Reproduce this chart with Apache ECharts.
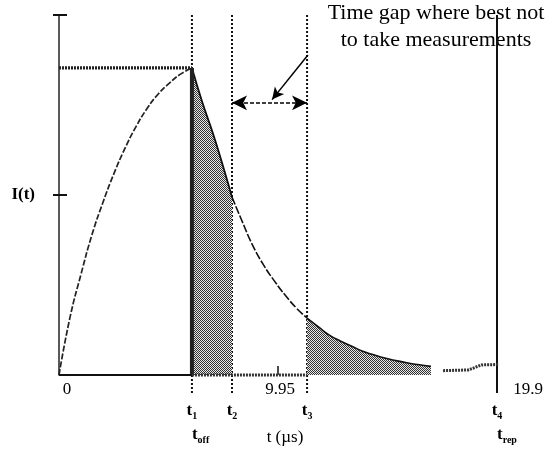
<!DOCTYPE html>
<html><head><meta charset="utf-8">
<script src="https://cdn.jsdelivr.net/npm/echarts@6/dist/echarts.min.js"></script>
<style>html,body{margin:0;padding:0;background:#fff}#c{width:555px;height:451px}</style>
</head><body><div id="c"></div>
<script>
// ---- data ----
const riseT = [0, 0.5, 1.0, 1.5, 2.0, 2.5, 3.0, 3.5, 4.0, 4.5, 5.0, 5.5, 6.04];
const riseI = [0, 0.16, 0.28, 0.39, 0.48, 0.56, 0.63, 0.69, 0.74, 0.78, 0.81, 0.835, 0.853];
const decayT = [6.04, 6.5, 7.0, 7.5, 7.86, 8.3, 8.8, 9.3, 9.8, 10.3, 10.8, 11.27, 11.8, 12.3, 12.8, 13.3, 13.8, 14.3, 14.8, 15.3, 15.8, 16.3, 16.9];
const decayI = [0.853, 0.76, 0.67, 0.57, 0.494, 0.43, 0.36, 0.305, 0.26, 0.22, 0.185, 0.158, 0.133, 0.11, 0.094, 0.08, 0.066, 0.056, 0.047, 0.04, 0.034, 0.029, 0.024];
const plateau = 0.853;
const markTimes = [6.04, 7.86, 11.27, 19.9];      // t1..t4
const markSubs = ['1', '2', '3', '4'];
const subTimes = [6.04, 19.9];
const subNames = ['off', 'rep'];
const xTickValues = [0, 9.95, 19.9];
const xTickLabels = ['0', '9.95', '19.9'];
const yTickValues = [0.5, 1.0];
const tailT = [17.45, 18.6, 19.2, 20.6];
const tailI = [0.012, 0.014, 0.028, 0.03];
const gapArrowI = 0.756;
const pointerFrom = [11.31, 0.889];
const pointerTo = [9.68, 0.765];
const noteText = 'Time gap where best not\nto take measurements';

// ---- helpers ----
const FONT = "'Liberation Serif','Times New Roman',serif";
const zip = (a, b) => a.map((v, i) => [v, b[i]]);
const decay = zip(decayT, decayI);
const t1 = markTimes[0], t2 = markTimes[1], t3 = markTimes[2], t4 = markTimes[3];
const decA = decay.filter(p => p[0] <= t2);
const decB = decay.filter(p => p[0] >= t2 && p[0] <= t3);
const decC = decay.filter(p => p[0] >= t3);

function makePattern() {
  const c = document.createElement('canvas'); c.width = 2; c.height = 2;
  const ctx = c.getContext('2d');
  ctx.fillStyle = '#e8e8e8'; ctx.fillRect(0, 0, 2, 2);
  ctx.fillStyle = '#333';
  ctx.fillRect(0, 0, 1, 1); ctx.fillRect(1, 1, 1, 1);
  return c;
}
const pattern = { image: makePattern(), repeat: 'repeat' };

function seg(data, ls, extra) {
  return Object.assign({
    type: 'line', data: data, showSymbol: false, symbol: 'none', silent: true,
    animation: false, clip: false, lineStyle: ls, z: 3
  }, extra || {});
}
function nearestIdx(arr, v) {
  let b = 0; arr.forEach((a, i) => { if (Math.abs(a - v) < Math.abs(arr[b] - v)) b = i; }); return b;
}

const series = [];
// vertical marker lines
markTimes.forEach((t, i) => {
  series.push(seg([[t, -0.05], [t, 1.0]], {
    color: '#111', width: 2, type: i === 3 ? 'solid' : [2, 2]
  }, { z: 2 }));
});
// rise curve
series.push(seg(zip(riseT, riseI), { color: '#222', width: 1.7, type: [6, 2] }, { smooth: true }));
// plateau
series.push(seg([[0, plateau], [t1, plateau]], { color: '#222', width: 3.2, type: [2, 1] }));
// decay segments
series.push(seg(decA, { color: '#111', width: 1.8 }, { smooth: true, areaStyle: { color: pattern, opacity: 1 } }));
series.push(seg(decB, { color: '#111', width: 1.6, type: [8, 2] }, {
  smooth: true,
  markLine: {
    silent: true, animation: false, symbol: ['arrow', 'arrow'], symbolSize: [11, 15],
    label: { show: false }, lineStyle: { color: '#000', width: 1.5, type: [4, 2] },
    data: [[{ coord: [t2, gapArrowI] }, { coord: [t3, gapArrowI] }]]
  }
}));
series.push(seg(decC, { color: '#111', width: 1.6 }, {
  smooth: true, areaStyle: { color: pattern, opacity: 1 },
  markLine: {
    silent: true, animation: false, symbol: ['none', 'arrow'], symbolSize: [9, 12],
    label: { show: false }, lineStyle: { color: '#000', width: 1.5, type: 'solid' },
    data: [[{ coord: pointerFrom }, { coord: pointerTo }]]
  }
}));
// dark band at t1
series.push(seg([[t1, 0], [t1, plateau]], { color: '#222', width: 4 }));
// baseline pieces
series.push(seg([[0, 0], [t1, 0]], { color: '#111', width: 2.2 }));
series.push(seg([[t1, 0], [t3, 0]], { color: '#333', width: 3, type: [2, 1] }));
series.push(seg(zip(tailT, tailI), { color: '#333', width: 3, type: [2, 1] }));

const labelStyle = { fontFamily: FONT, fontSize: 17, color: '#000' };

const option = {
  backgroundColor: '#fff',
  animation: false,
  grid: { left: 59, right: 58, top: 15, bottom: 76 },
  xAxis: [
    {
      type: 'value', min: 0, max: 19.9,
      name: 't (µs)', nameLocation: 'middle', nameGap: 54,
      nameTextStyle: Object.assign({}, labelStyle, { padding: [0, 0, 0, 14] }),
      axisLine: { show: false }, splitLine: { show: false },
      axisTick: { show: true, inside: true, length: 9, customValues: [9.95], lineStyle: { color: '#111', width: 1.5 } },
      axisLabel: {
        customValues: xTickValues, margin: 6, color: '#000', fontFamily: FONT, fontSize: 17,
        formatter: (v) => {
          const i = nearestIdx(xTickValues, v);
          return '{p' + i + '|' + xTickLabels[i] + '}';
        },
        rich: {
          p0: { fontFamily: FONT, fontSize: 17, padding: [0, 0, 0, 16] },
          p1: { fontFamily: FONT, fontSize: 17, padding: [0, 0, 0, 4] },
          p2: { fontFamily: FONT, fontSize: 17, padding: [0, 0, 0, 62] }
        }
      }
    },
    {
      type: 'value', min: 0, max: 19.9, position: 'bottom',
      axisLine: { show: false }, axisTick: { show: false }, splitLine: { show: false },
      axisLabel: {
        customValues: markTimes, margin: 26, color: '#000',
        formatter: (v) => '{t|t}{s|' + markSubs[nearestIdx(markTimes, v)] + '}',
        rich: {
          t: { fontFamily: FONT, fontSize: 17, lineHeight: 20, fontWeight: 'bold' },
          s: { fontFamily: FONT, fontSize: 10, lineHeight: 10, verticalAlign: 'bottom', fontWeight: 'bold' }
        }
      }
    },
    {
      type: 'value', min: 0, max: 19.9, position: 'bottom',
      axisLine: { show: false }, axisTick: { show: false }, splitLine: { show: false },
      axisLabel: {
        customValues: subTimes, margin: 50, color: '#000', align: 'left',
        formatter: (v) => '{t|t}{s|' + subNames[nearestIdx(subTimes, v)] + '}',
        rich: {
          t: { fontFamily: FONT, fontSize: 17, lineHeight: 20, fontWeight: 'bold' },
          s: { fontFamily: FONT, fontSize: 10, lineHeight: 10, verticalAlign: 'bottom', fontWeight: 'bold' }
        }
      }
    }
  ],
  yAxis: [
    {
      type: 'value', min: 0, max: 1,
      name: 'I(t)', nameLocation: 'middle', nameRotate: 0, nameGap: 24,
      nameTextStyle: Object.assign({}, labelStyle, { fontWeight: 'bold', padding: [0, 0, 28, 0] }),
      axisLine: { show: true, lineStyle: { color: '#222', width: 1.5 } },
      axisTick: { show: true, inside: false, length: 6, customValues: yTickValues, lineStyle: { color: '#111', width: 2 } },
      axisLabel: { show: false }, splitLine: { show: false }
    },
    {
      type: 'value', min: 0, max: 1, position: 'left',
      axisLine: { show: false },
      axisTick: { show: true, inside: true, length: 8, customValues: yTickValues, lineStyle: { color: '#111', width: 2 } },
      axisLabel: { show: false }, splitLine: { show: false }
    }
  ],
  graphic: [{
    type: 'text', x: 436, y: 0, silent: true,
    style: { text: noteText, fontFamily: FONT, fontSize: 22, lineHeight: 27, fill: '#000', textAlign: 'center' }
  }],
  series: series
};
echarts.init(document.getElementById('c')).setOption(option);
</script></body></html>
